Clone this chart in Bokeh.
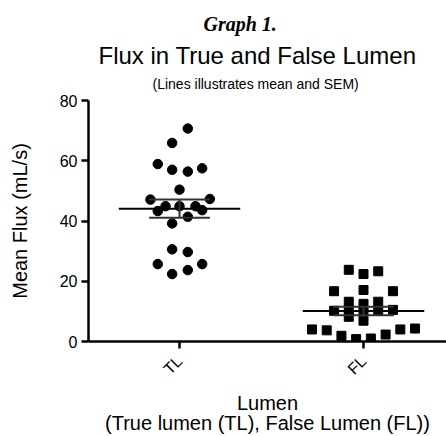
from bokeh.plotting import figure
from bokeh.models import Range1d, FixedTicker, Title
from bokeh.embed import file_html
from bokeh.resources import INLINE
import math

categories = ["TL", "FL"]
tick_labels = ["TL", "FL"]
y_ticks = [0, 20, 40, 60, 80]

tl_flux = [70.7, 65.9, 58.9, 57.0, 56.4, 57.5, 50.4, 47.1, 47.3, 44.9, 43.3,
           44.9, 44.9, 43.6, 41.4, 39.2, 30.6, 29.7, 25.7, 25.7, 23.7, 22.4]
tl_jitter = [0.045, -0.04, -0.118, -0.04, 0.045, 0.123, 0.0, -0.158, 0.165, -0.076, -0.118,
             0.0, 0.087, 0.123, 0.045, -0.04, -0.04, 0.045, -0.118, 0.123, 0.045, -0.04]

fl_flux = [23.8, 22.4, 23.3, 16.7, 17.1, 16.7, 13.2, 12.5, 13.2, 10.2, 10.5, 10.5, 10.2, 10.2,
           8.2, 6.9, 4.0, 3.7, 1.9, 0.8, 1.0, 2.3, 4.0, 4.3]
fl_jitter = [-0.08, 0.0, 0.08, -0.16, 0.0, 0.16, -0.08, 0.0, 0.08, -0.16, 0.16, -0.08, 0.0, 0.08,
             -0.08, 0.0, -0.28, -0.2, -0.12, -0.04, 0.04, 0.12, 0.2, 0.28]

means = [44.1, 10.1]
sems = [3.0, 1.4]

pos = [i + 1 for i in range(len(categories))]

p = figure(width=446, height=436, output_backend="svg", toolbar_location=None,
           x_range=Range1d(0.5054, 2.451), y_range=Range1d(0, 80),
           min_border_left=88, min_border_right=0, min_border_top=100, min_border_bottom=93)
p.outline_line_color = None
p.xgrid.visible = False
p.ygrid.visible = False
p.background_fill_color = "white"
p.border_fill_color = "white"

p.scatter(x=[pos[0] + j for j in tl_jitter], y=tl_flux, marker="circle", size=9.5,
          fill_color="black", line_color="black")
p.scatter(x=[pos[1] + j for j in fl_jitter], y=fl_flux, marker="square", size=9,
          fill_color="black", line_color="black")

p.segment(x0=[c - 0.33 for c in pos], x1=[c + 0.33 for c in pos], y0=means, y1=means,
          line_color="black", line_width=2)
p.segment(x0=[c - 0.165 for c in pos], x1=[c + 0.165 for c in pos],
          y0=[m + s for m, s in zip(means, sems)], y1=[m + s for m, s in zip(means, sems)],
          line_color="#333333", line_width=2)
p.segment(x0=[c - 0.165 for c in pos], x1=[c + 0.165 for c in pos],
          y0=[m - s for m, s in zip(means, sems)], y1=[m - s for m, s in zip(means, sems)],
          line_color="#333333", line_width=2)
p.segment(x0=pos, x1=pos, y0=[m - s for m, s in zip(means, sems)],
          y1=[m + s for m, s in zip(means, sems)], line_color="#333333", line_width=2)

for ax in (p.xaxis[0], p.yaxis[0]):
    ax.axis_line_width = 2.5
    ax.axis_line_color = "black"
    ax.major_tick_line_width = 2.5
    ax.major_tick_line_color = "black"
    ax.major_tick_in = 0
    ax.major_tick_out = 7
    ax.minor_tick_line_color = None
    ax.major_label_text_font = "Liberation Sans"
    ax.major_label_text_color = "black"
    ax.axis_label_text_font = "Liberation Sans"
    ax.axis_label_text_font_style = "normal"
    ax.axis_label_text_color = "black"
    ax.axis_label_text_font_size = "20px"

p.yaxis.ticker = FixedTicker(ticks=y_ticks)
p.yaxis.major_label_text_font_size = "16px"
p.yaxis.major_label_standoff = 4
p.yaxis.axis_label = "Mean Flux (mL/s)"
p.yaxis.axis_label_standoff = 26

p.xaxis.ticker = FixedTicker(ticks=pos)
p.xaxis.major_label_overrides = {c: t for c, t in zip(pos, tick_labels)}
p.xaxis.major_label_orientation = math.pi / 4
p.xaxis.major_label_text_font_size = "16px"
p.xaxis.major_label_standoff = 10
p.xaxis.axis_label = "Lumen\n(True lumen (TL), False Lumen (FL))"
p.xaxis.axis_label_text_line_height = 0.9
p.xaxis.axis_label_standoff = 5

sub = Title(text="(Lines illustrates mean and SEM)", align="left", offset=64,
            text_font="Liberation Sans", text_font_size="14px", text_font_style="normal",
            text_color="black", standoff=17)
main = Title(text="Flux in True and False Lumen", align="left", offset=10,
             text_font="Liberation Sans", text_font_size="24px", text_font_style="normal",
             text_color="black", standoff=-6)
head = Title(text="Graph 1.", align="left", offset=115,
             text_font="Liberation Serif", text_font_size="20px", text_font_style="bold italic",
             text_color="black", standoff=15)
p.add_layout(sub, "above")
p.add_layout(main, "above")
p.add_layout(head, "above")

open("out.html", "w").write(file_html(p, INLINE))
